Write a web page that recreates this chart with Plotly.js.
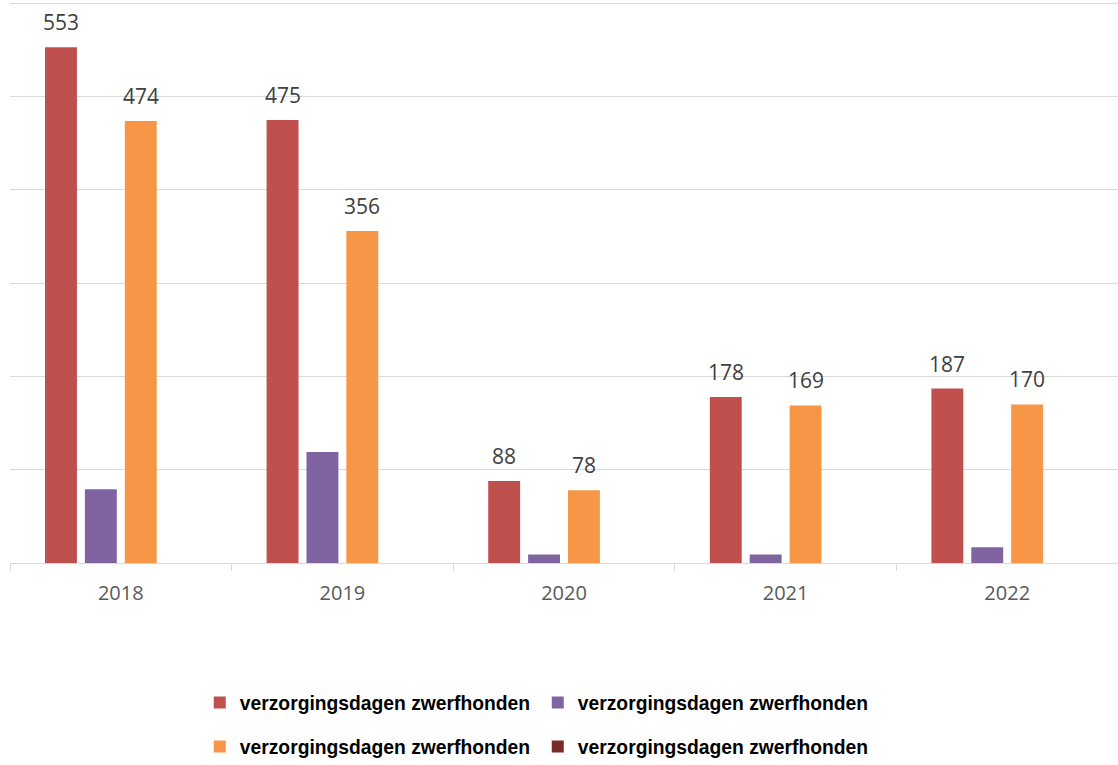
<!DOCTYPE html>
<html>
<head>
<meta charset="utf-8">
<script src="https://cdn.plot.ly/plotly-3.0.1.min.js"></script>
<style>
  html, body { margin: 0; padding: 0; background: #fff; }
  #grafico { width: 1118px; height: 765px; }
</style>
</head>
<body>
<div id="grafico"></div>
<script>
  // categorieën en reeksen
  let jaren = ['2018', '2019', '2020', '2021', '2022'];
  let reeksNaam = 'verzorgingsdagen zwerfhonden';
  let reeks1 = [553, 475, 88, 178, 187];
  let reeks2 = [79, 119, 9, 9, 17];
  let reeks3 = [474, 356, 78, 169, 170];
  let reeks4 = [null, null, null, null, null];

  let kleuren = ['#C0504D', '#8064A2', '#F79646', '#772C2A'];
  let bargap = 0.28;
  let aantalReeksen = 4;

  let legendFont = { family: 'Liberation Sans, Arial, sans-serif', size: 19.3, color: '#000' };

  let alleReeksen = [reeks1, reeks2, reeks3, reeks4];
  let trazas = alleReeksen.map((vals, s) => ({
    type: 'bar',
    x: jaren,
    y: vals,
    name: '<b>' + reeksNaam + '</b>',
    marker: { color: kleuren[s] },
    legend: s < 2 ? 'legend' : 'legend2',
    hoverinfo: 'x+y'
  }));

  // labels boven de rode en oranje staven
  let slot = (1 - bargap) / aantalReeksen;
  let annotaties = [];
  [0, 2].forEach(s => {
    alleReeksen[s].forEach((v, i) => {
      if (v === null) return;
      annotaties.push({
        x: i + (s - (aantalReeksen - 1) / 2) * slot,
        y: v,
        xref: 'x', yref: 'y',
        text: String(v),
        showarrow: false,
        yanchor: 'bottom',
        yshift: 9,
        font: { family: 'Open Sans, sans-serif', size: 21, color: '#404040' }
      });
    });
  });

  let legendaBasis = {
    orientation: 'h',
    xref: 'container', yref: 'container',
    x: 0.481, xanchor: 'center',
    yanchor: 'middle',
    font: legendFont,
    itemwidth: 30,
    entrywidth: 293,
    traceorder: 'normal'
  };

  let layout = {
    width: 1118,
    height: 765,
    margin: { l: 10, r: 0, t: 2, b: 202 },
    paper_bgcolor: '#fff',
    plot_bgcolor: '#fff',
    barmode: 'group',
    bargap: bargap,
    bargroupgap: 0.2,
    showlegend: true,
    xaxis: {
      type: 'category',
      showline: true,
      linecolor: '#d9d9d9',
      linewidth: 1,
      ticks: 'outside',
      tickson: 'boundaries',
      ticklen: 7,
      tickcolor: '#d9d9d9',
      ticklabelstandoff: 12,
      tickfont: { family: 'Open Sans, sans-serif', size: 20, color: '#595959' },
      showgrid: false,
      fixedrange: true
    },
    yaxis: {
      range: [0, 601.6],
      tick0: 0,
      dtick: 100,
      showticklabels: false,
      gridcolor: '#d9d9d9',
      gridwidth: 1,
      zeroline: false,
      fixedrange: true
    },
    legend: Object.assign({}, legendaBasis, { y: 1 - 703 / 765 }),
    legend2: Object.assign({}, legendaBasis, { y: 1 - 747 / 765 }),
    annotations: annotaties
  };

  Plotly.newPlot('grafico', trazas, layout, { displayModeBar: false, responsive: false });
</script>
</body>
</html>
